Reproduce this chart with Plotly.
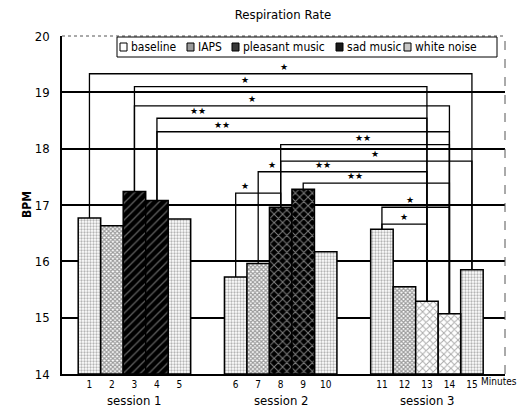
import plotly.graph_objects as go

# ---------------- data ----------------
minutes = list(range(1, 16))
minute_labels = [str(m) for m in minutes]
session_names = ["session 1", "session 2", "session 3"]
bpm = [16.77, 16.63, 17.24, 17.08, 16.75,
       15.72, 15.96, 16.96, 17.28, 16.17,
       16.57, 15.55, 15.29, 15.07, 15.85]
condition = ["baseline", "IAPS", "pleasant music", "pleasant music", "baseline",
             "baseline", "IAPS", "sad music", "sad music", "baseline",
             "baseline", "IAPS", "white noise", "white noise", "baseline"]
legend_order = ["baseline", "IAPS", "pleasant music", "sad music", "white noise"]

# significance brackets: (from minute, to minute, bracket level in BPM, [(marker text, x on the bar scale)])
brackets = [
    (1, 15, 19.33, [("★", 9.64)]),
    (3, 13, 19.10, [("★", 7.91)]),
    (3, 14, 18.76, [("★", 8.22)]),
    (4, 13, 18.54, [("★★", 5.82)]),
    (4, 14, 18.30, [("★★", 6.89)]),
    (8, 14, 18.07, [("★★", 13.16)]),
    (8, 15, 17.78, [("★", 13.69)]),
    (7, 13, 17.59, [("★", 9.11), ("★★", 11.38)]),
    (9, 14, 17.39, [("★★", 12.80)]),
    (6, 8, 17.21, [("★", 7.91)]),
    (11, 14, 16.96, [("★", 15.24)]),
    (11, 13, 16.66, [("★", 14.98)]),
]

# ---------------- styling ----------------
FONT = "DejaVu Sans Condensed, DejaVu Sans, sans-serif"
W, H = 525, 413
ML, MR, MT, MB = 62, 20, 36, 39
PW, PH = W - ML - MR, H - MT - MB


def pos(m):
    # bar position on the x scale: minutes, with a gap between sessions
    return m + 1.5 * ((m - 1) // 5)


def px(xp):
    return (xp - ML) / PW


def py(yp):
    return (H - MB - yp) / PH


styles = {
    "baseline":       dict(color="white", pattern=dict(shape=".", fgcolor="#6a6a6a", size=3, solidity=0.45)),
    "IAPS":           dict(color="white", pattern=dict(shape="x", fgcolor="#3a3a3a", size=3, solidity=0.65)),
    "pleasant music": dict(color="black", pattern=dict(shape="/", fgcolor="#bdbdbd", size=6, solidity=0.22)),
    "sad music":      dict(color="black", pattern=dict(shape="x", fgcolor="white", size=6, solidity=0.3)),
    "white noise":    dict(color="white", pattern=dict(shape="x", fgcolor="#555555", size=5, solidity=0.35)),
}
swatch_fill = {"baseline": "white", "IAPS": "#9a9a9a", "pleasant music": "#3a3a3a",
               "sad music": "#1a1a1a", "white noise": "#c8c8c8"}

fig = go.Figure()
for cond in legend_order:
    xs = [pos(m) for m, c in zip(minutes, condition) if c == cond]
    ys = [v - 14 for v, c in zip(bpm, condition) if c == cond]
    st = styles[cond]
    fig.add_trace(go.Bar(
        x=xs, y=ys, base=14, name=cond, width=1.0, showlegend=False,
        marker=dict(color=st["color"], pattern=st["pattern"],
                    line=dict(color="black", width=1.5)),
    ))

# significance brackets
val = {m: v for m, v in zip(minutes, bpm)}
for a, b, lvl, labels in brackets:
    xa, xb = pos(a), pos(b)
    fig.add_trace(go.Scatter(
        x=[xa, xa, xb, xb], y=[val[a], lvl, lvl, val[b]],
        mode="lines", line=dict(color="black", width=1.3),
        showlegend=False, hoverinfo="skip"))
    for txt, lx in labels:
        fig.add_annotation(x=lx, y=lvl, text=txt, showarrow=False, yshift=7,
                           font=dict(size=9, color="black", family="DejaVu Sans"))

fig.update_layout(
    width=W, height=H,
    margin=dict(l=ML, r=MR, t=MT, b=MB),
    paper_bgcolor="white", plot_bgcolor="white",
    barmode="overlay", showlegend=False,
    title=dict(text="Respiration Rate", x=283 / W, xanchor="center", y=1 - 14 / H, yanchor="middle",
               font=dict(size=13, color="black", family=FONT)),
)

fig.update_xaxes(range=[-0.22, 19.47], tickvals=[pos(m) for m in minutes], ticktext=minute_labels,
                 showgrid=False, zeroline=False, showline=True, linecolor="black", linewidth=1.5,
                 ticks="", ticklabelstandoff=0, tickfont=dict(size=10, color="black", family=FONT))
fig.update_yaxes(range=[14, 20], dtick=1, showgrid=True, gridcolor="black", gridwidth=1.5,
                 zeroline=False, showline=True, linecolor="black", linewidth=1.5,
                 ticks="", ticklabelstandoff=8,
                 tickfont=dict(size=13, color="black", family=FONT))

# dashed top / right frame
fig.add_shape(type="line", xref="paper", yref="paper", x0=0, x1=1, y0=1, y1=1,
              line=dict(color="#555", width=1, dash="dot"))
fig.add_shape(type="line", xref="paper", yref="paper", x0=1, x1=1, y0=0, y1=1,
              line=dict(color="#555", width=1, dash="dash"))

# legend box (drawn by hand to keep it on one line)
fig.add_shape(type="rect", xref="paper", yref="paper", x0=px(117), x1=px(497), y0=py(57), y1=py(37),
              fillcolor="white", line=dict(color="black", width=1), layer="above")
sw_left = [120, 187, 232, 336, 404]
for cond, sx in zip(legend_order, sw_left):
    fig.add_shape(type="rect", xref="paper", yref="paper", x0=px(sx), x1=px(sx + 7),
                  y0=py(51), y1=py(43), fillcolor=swatch_fill[cond],
                  line=dict(color="black", width=1), layer="above")
    fig.add_annotation(xref="paper", yref="paper", x=px(sx + 9), y=py(47), text=cond,
                       xanchor="left", yanchor="middle", showarrow=False,
                       font=dict(size=12, color="black", family=FONT))

# axis labels / extra text
fig.add_annotation(xref="paper", yref="paper", x=px(18), y=py(205),
                   text="<b>BPM</b>", textangle=-90, showarrow=False,
                   font=dict(size=12, color="black", family=FONT))
fig.add_annotation(xref="paper", yref="paper", x=px(479), y=py(382), text="Minutes",
                   showarrow=False, xanchor="left", yanchor="middle",
                   font=dict(size=10, color="black", family=FONT))
for i, s in enumerate(session_names):
    fig.add_annotation(x=pos(3 + 5 * i), yref="paper", y=py(400), text=s, showarrow=False,
                       yanchor="middle", font=dict(size=13, color="black", family=FONT))

fig.write_html("out.html", config={"displayModeBar": False},
               post_script="document.body.style.margin='0px';")
